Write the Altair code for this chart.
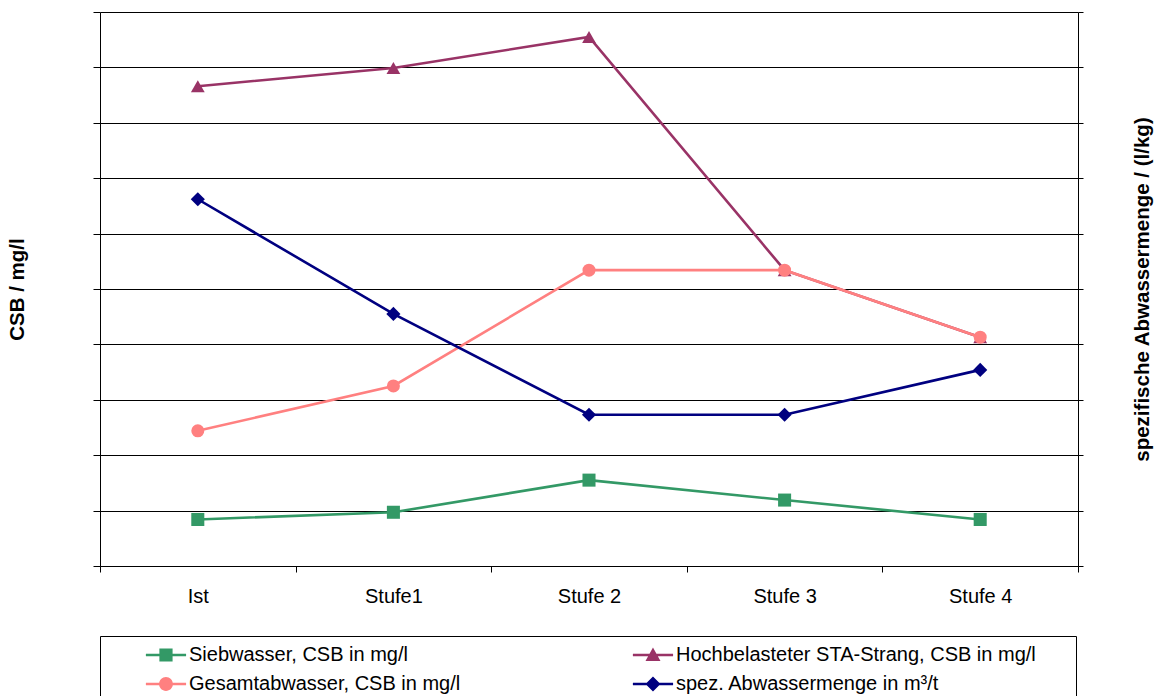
import altair as alt
import pandas as pd

# Stages of the water-loop closure study
stages = ["Ist", "Stufe1", "Stufe 2", "Stufe 3", "Stufe 4"]

# CSB concentrations (mg/l), left axis
siebwasser = [840, 970, 1550, 1190, 840]
hochbelastet = [8660, 8990, 9550, 5340, 4130]
gesamtabwasser = [2440, 3250, 5340, 5340, 4130]

# specific waste-water volume (l/kg), right axis
abwassermenge = [33.1, 22.75, 13.65, 13.65, 17.7]

name_sieb = "Siebwasser, CSB in mg/l"
name_hoch = "Hochbelasteter STA-Strang, CSB in mg/l"
name_gesamt = "Gesamtabwasser, CSB in mg/l"
name_menge = "spez. Abwassermenge in m³/t"

color_sieb, color_hoch, color_gesamt, color_menge = "#339966", "#993366", "#FF8080", "#000080"

FONT = "Liberation Sans"
LABEL_SIZE = 20
TITLE_SIZE = 20.5

# legend symbols: a short line with the marker on it (units of sqrt(size)/2);
# the bare moves only widen the entry box
DX = 7.83
_frame = "M-1,0 M76.7,0 "
_bar = "M{x0},-0.22H{x1}V0.22H{x0}Z ".format(x0=DX - 3.35, x1=DX + 3.35)


def legend_path(marker):
    return _frame + _bar + marker


path_square = legend_path("M{a},-1.1H{b}V1.1H{a}Z".format(a=DX - 1.1, b=DX + 1.1))
path_triangle = legend_path("M{c},-1.25L{b},1L{a},1Z".format(a=DX - 1.25, b=DX + 1.25, c=DX))
path_circle = legend_path(
    "M{a},0A1.15,1.15 0 1,1 {b},0A1.15,1.15 0 1,1 {a},0Z".format(a=DX - 1.15, b=DX + 1.15)
)
path_diamond = legend_path("M{c},-1.25L{b},0L{c},1.25L{a},0Z".format(a=DX - 1.25, b=DX + 1.25, c=DX))

# legend entries are filled column by column
legend_order = [name_sieb, name_gesamt, name_hoch, name_menge]
legend_colors = [color_sieb, color_gesamt, color_hoch, color_menge]
legend_shapes = [path_square, path_circle, path_triangle, path_diamond]

csb_df = pd.concat(
    [
        pd.DataFrame({"Stufe": stages, "CSB": siebwasser, "Reihe": name_sieb}),
        pd.DataFrame({"Stufe": stages, "CSB": hochbelastet, "Reihe": name_hoch}),
        pd.DataFrame({"Stufe": stages, "CSB": gesamtabwasser, "Reihe": name_gesamt}),
    ],
    ignore_index=True,
)
menge_df = pd.DataFrame({"Stufe": stages, "Menge": abwassermenge, "Reihe": name_menge})

x_enc = alt.X(
    "Stufe:N",
    sort=stages,
    scale=alt.Scale(type="band", domain=stages, paddingInner=0, paddingOuter=0),
    axis=alt.Axis(
        title=None,
        tickBand="extent",
        labelAngle=0,
        labelFont=FONT,
        labelFontSize=LABEL_SIZE,
        labelColor="black",
        labelPadding=14,
        domainColor="black",
        tickColor="black",
        tickSize=6,
        grid=False,
    ),
)

y_left = alt.Y(
    "CSB:Q",
    scale=alt.Scale(domain=[0, 10000], nice=False),
    axis=alt.Axis(
        values=list(range(0, 10001, 1000)),
        labels=False,
        grid=True,
        gridColor="black",
        gridWidth=1,
        gridOpacity=1,
        domainColor="black",
        tickColor="black",
        tickSize=7,
        title="CSB / mg/l",
        titleFont=FONT,
        titleFontSize=TITLE_SIZE,
        titleFontWeight="bold",
        titleColor="black",
        titlePadding=65,
    ),
)

y_right = alt.Y(
    "Menge:Q",
    scale=alt.Scale(domain=[0, 50], nice=False),
    axis=alt.Axis(
        orient="right",
        values=list(range(0, 51, 5)),
        labels=False,
        grid=False,
        domainColor="black",
        tickColor="black",
        tickSize=5,
        title="spezifische Abwassermenge / (l/kg)",
        titleFont=FONT,
        titleFontSize=TITLE_SIZE,
        titleFontWeight="bold",
        titleColor="black",
        titleAngle=270,
        titleBaseline="top",
        titlePadding=49,
    ),
)


def series_layers(df, y_enc, color, shape, size):
    base = alt.Chart(df).encode(x=x_enc, y=y_enc)
    line = base.mark_line(color=color, strokeWidth=2.6)
    pts = base.mark_point(filled=True, opacity=1, color=color, shape=shape, size=size)
    return [line, pts]


left_layers = (
    series_layers(csb_df[csb_df["Reihe"] == name_sieb], y_left, color_sieb, "square", 170)
    + series_layers(csb_df[csb_df["Reihe"] == name_hoch], y_left, color_hoch, "triangle-up", 190)
    + series_layers(csb_df[csb_df["Reihe"] == name_gesamt], y_left, color_gesamt, "circle", 170)
)

legend = alt.Legend(
    title=None,
    orient="none",
    legendX=0,
    legendY=624,
    columns=2,
    strokeColor="black",
    padding=9,
    labelFont=FONT,
    labelFontSize=LABEL_SIZE,
    labelColor="black",
    labelLimit=600,
    labelOffset=60,
    symbolSize=144,
    symbolOpacity=1,
    symbolStrokeWidth=0,
    columnPadding=16,
    rowPadding=9,
)

# invisible carrier that produces the legend entries
carrier = alt.Chart(csb_df).mark_point(filled=True, opacity=0).encode(
    x=x_enc,
    y=y_left,
    color=alt.Color("Reihe:N", scale=alt.Scale(domain=legend_order, range=legend_colors), legend=legend),
    shape=alt.Shape("Reihe:N", scale=alt.Scale(domain=legend_order, range=legend_shapes), legend=legend),
)

left = alt.layer(*left_layers, carrier)
right = alt.layer(*series_layers(menge_df, y_right, color_menge, "diamond", 200))

chart = (
    alt.layer(left, right)
    .resolve_scale(y="independent")
    .properties(
        width=978,
        height=554,
        padding={"left": 100, "top": 12, "right": 82, "bottom": 130},
        autosize=alt.AutoSizeParams(type="none"),
        background="white",
    )
    .configure_view(stroke=None)
)

chart.save("out.html", embed_options={"renderer": "svg", "actions": False})
